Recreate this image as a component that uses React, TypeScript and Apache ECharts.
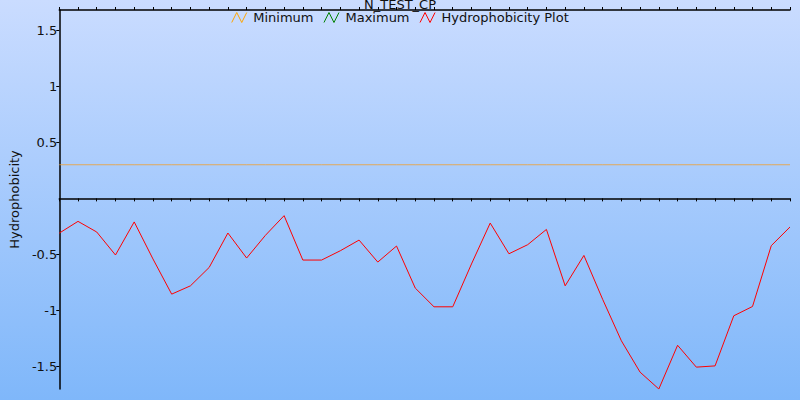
import React, { useEffect, useRef } from "react";
import * as echarts from "echarts";

const positions: string[] = Array.from({ length: 40 }, (_, i) => String(i + 1));

const hydrophobicity: number[] = [
  -0.31, -0.205, -0.3, -0.505, -0.21, -0.54, -0.854, -0.78, -0.616, -0.309,
  -0.532, -0.33, -0.154, -0.55, -0.55, -0.467, -0.372, -0.568, -0.425, -0.8,
  -0.967, -0.967, -0.585, -0.22, -0.494, -0.413, -0.277, -0.78, -0.509, -0.9,
  -1.27, -1.55, -1.7, -1.31, -1.505, -1.494, -1.047, -0.964, -0.422, -0.255,
];

const minimumValue = 0.3;
const minimum: number[] = positions.map(() => minimumValue);
const maximum: number[] = [];

const yTickValues: number[] = [-1.5, -1, -0.5, 0.5, 1, 1.5];

const FONT = "DejaVu Sans";

export default function App() {
  const ref = useRef<HTMLDivElement>(null);

  useEffect(() => {
    if (!ref.current) return;
    const chart = echarts.init(ref.current, undefined, { renderer: "svg" });
    const zig = "path://M0,10 L5,0 L10,10 L15,0";
    chart.setOption({
      animation: false,
      backgroundColor: new echarts.graphic.LinearGradient(0, 0, 0, 1, [
        { offset: 0, color: "#cadcff" },
        { offset: 1, color: "#7fb7fa" },
      ]),
      title: {
        text: "N_TEST_CP",
        left: "center",
        top: -7,
        textStyle: { fontFamily: FONT, fontSize: 13, fontWeight: "normal", color: "#111" },
      },
      legend: {
        top: 6,
        left: "center",
        itemWidth: 18,
        itemHeight: 10,
        itemGap: 10,
        textStyle: { fontFamily: FONT, fontSize: 13, color: "#111" },
        data: [
          { name: "Minimum", icon: zig, itemStyle: { color: "transparent", borderColor: "#ffa500", borderWidth: 1 } },
          { name: "Maximum", icon: zig, itemStyle: { color: "transparent", borderColor: "#008000", borderWidth: 1 } },
          { name: "Hydrophobicity Plot", icon: zig, itemStyle: { color: "transparent", borderColor: "#ff0000", borderWidth: 1 } },
        ],
      },
      grid: { left: 59, right: 10, top: 10, bottom: 11, containLabel: false },
      xAxis: [
        {
          type: "category",
          data: positions,
          boundaryGap: false,
          position: "bottom",
          axisLine: { onZero: true, lineStyle: { color: "#000", width: 1.5 } },
          axisTick: { show: true, length: 3, lineStyle: { color: "#000" } },
          axisLabel: { show: false },
          splitLine: { show: false },
        },
        {
          type: "category",
          data: positions,
          boundaryGap: false,
          position: "top",
          axisLine: { onZero: true, lineStyle: { color: "#000", width: 1.5 } },
          axisTick: { show: true, length: 3, lineStyle: { color: "#000" } },
          axisLabel: { show: false },
          splitLine: { show: false },
        },
      ],
      yAxis: {
        type: "value",
        min: -1.7,
        max: 1.68,
        name: "Hydrophobicity",
        nameLocation: "middle",
        nameRotate: 90,
        nameGap: 38,
        nameTextStyle: { fontFamily: FONT, fontSize: 13, color: "#111" },
        axisLine: { show: true, lineStyle: { color: "#000", width: 1.5 } },
        axisTick: { show: true, length: 3, customValues: yTickValues, lineStyle: { color: "#000" } },
        axisLabel: {
          customValues: yTickValues,
          margin: 2,
          fontFamily: FONT,
          fontSize: 13,
          color: "#111",
        },
        splitLine: { show: false },
      },
      series: [
        {
          name: "Minimum",
          type: "line",
          data: minimum,
          symbol: "none",
          lineStyle: { color: "#f0a030", width: 0.8 },
          itemStyle: { color: "#ffa500" },
        },
        {
          name: "Maximum",
          type: "line",
          data: maximum,
          symbol: "none",
          lineStyle: { color: "#008000", width: 1 },
          itemStyle: { color: "#008000" },
        },
        {
          name: "Hydrophobicity Plot",
          type: "line",
          data: hydrophobicity,
          symbol: "none",
          lineStyle: { color: "#ff0000", width: 1 },
          itemStyle: { color: "#ff0000" },
        },
      ],
    });
    return () => chart.dispose();
  }, []);

  return (
    <div
      ref={ref}
      style={{ position: "absolute", left: 0, top: 0, width: 800, height: 400 }}
    />
  );
}
